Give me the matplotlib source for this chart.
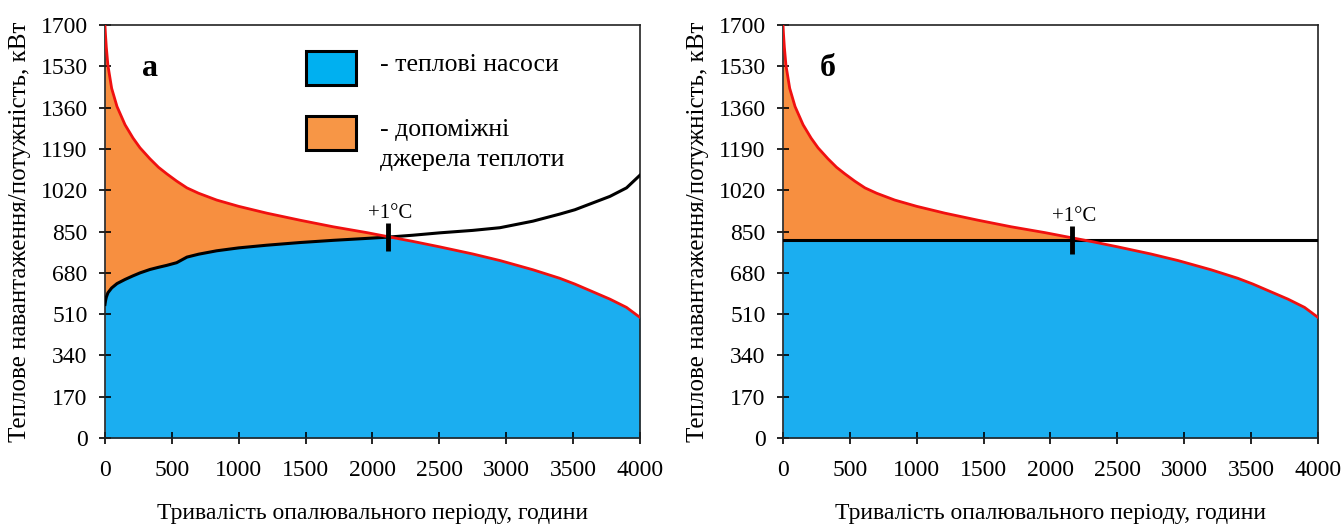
import numpy as np
import matplotlib
matplotlib.use("Agg")
import matplotlib.pyplot as plt
from matplotlib.patches import Rectangle

plt.rcParams["font.family"] = ["Liberation Serif", "DejaVu Serif"]

# heating load duration curve (kW) vs hours
hours = [0, 4, 10, 22, 50, 90, 150, 210, 262, 336, 400, 462, 536, 613, 700, 835, 1000,
         1210, 1458, 1705, 1957, 2108, 2300, 2505, 2750, 2953, 3200, 3400, 3514,
         3776, 3900, 4000]
load = [1700, 1660, 1610, 1535, 1440, 1365, 1290, 1235, 1195, 1150, 1115, 1088, 1058,
        1030, 1008, 980, 954, 926, 897, 870, 846, 830, 810, 787, 758, 731, 693, 658,
        634, 572, 538, 497]
# heat pump capacity, panel a (variable) and panel b (constant)
hp_a = [550, 565, 580, 598, 618, 636, 653, 668, 680, 694, 703, 711, 722, 745, 757, 771,
        783, 794, 805, 814, 822, 827, 835, 845, 855, 866, 893, 922, 940, 995, 1030, 1082]
hp_b = [815] * len(hours)

balance_a = (2116, 827)
balance_b = (2160, 815)

yticks = [0, 170, 340, 510, 680, 850, 1020, 1190, 1360, 1530, 1700]
xticks = [0, 500, 1000, 1500, 2000, 2500, 3000, 3500, 4000]

blue = "#1BAEF0"
orange = "#F78F40"
red = "#F01010"

fig = plt.figure(figsize=(13.44, 5.24), dpi=100)
ax1 = fig.add_axes([0.0781, 0.164, 0.398, 0.788])
ax2 = fig.add_axes([0.5826, 0.164, 0.398, 0.788])

h = np.array(hours)
q = np.array(load)

for ax, hp, bal, letter in [(ax1, np.array(hp_a), balance_a, "а"),
                            (ax2, np.array(hp_b), balance_b, "б")]:
    low = np.minimum(hp, q)
    ax.fill_between(h, 0, low, color=blue, lw=0)
    ax.fill_between(h, low, q, where=q >= low, color=orange, lw=0)
    ax.plot(h, hp, color="black", lw=2.2, zorder=3, solid_joinstyle="round")
    ax.plot(h, q, color=red, lw=2.0, zorder=4, solid_joinstyle="round")
    ax.plot([bal[0]], [bal[1]], marker="|", markersize=20, mew=3.5,
            color="black", zorder=5)
    ax.text(bal[0] + 20, bal[1] + 58, "+1°C", ha="center", va="bottom", fontsize=15)
    ax.text(0.084, 0.895, letter, transform=ax.transAxes, fontsize=23,
            fontweight="bold", ha="center", va="center")

    ax.set_xlim(0, 4000)
    ax.set_ylim(0, 1700)
    ax.set_xticks(xticks)
    ax.set_yticks(yticks)
    ax.tick_params(axis="both", direction="inout", length=9, width=1.2,
                   labelsize=17)
    ax.tick_params(axis="x", pad=11)
    ax.tick_params(axis="y", pad=8)
    for s in ax.spines.values():
        s.set_linewidth(1.2)
        s.set_color("#222222")
    ax.set_xlabel("Тривалість опалювального періоду, години", fontsize=17,
                  labelpad=16)
    ax.set_ylabel("Теплове навантаження/потужність, кВт", fontsize=18,
                  labelpad=7)

# legend drawn by hand in the left panel
ax1.add_patch(Rectangle((0.375, 0.855), 0.094, 0.082, transform=ax1.transAxes,
                        facecolor="#00B0F0", edgecolor="black", lw=2.2, zorder=6))
ax1.add_patch(Rectangle((0.375, 0.697), 0.094, 0.082, transform=ax1.transAxes,
                        facecolor="#F79646", edgecolor="black", lw=2.2, zorder=6))
ax1.text(0.514, 0.903, "- теплові насоси", transform=ax1.transAxes, fontsize=18.5,
         va="center", ha="left")
ax1.text(0.514, 0.746, "- допоміжні", transform=ax1.transAxes, fontsize=18.5,
         va="center", ha="left")
ax1.text(0.514, 0.673, "джерела теплоти", transform=ax1.transAxes, fontsize=18.5,
         va="center", ha="left")

fig.savefig("out.png", dpi=100)
